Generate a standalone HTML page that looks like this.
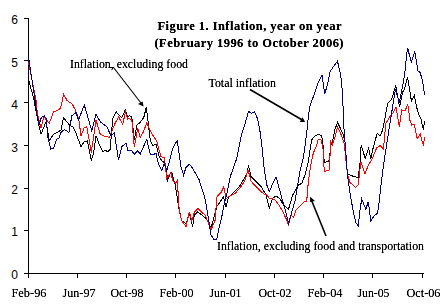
<!DOCTYPE html>
<html><head><meta charset="utf-8"><style>
html,body{margin:0;padding:0;background:#fff;}
svg{display:block;}
</style></head><body>
<svg width="447" height="306" viewBox="0 0 447 306">
<defs><filter id="crisp" x="0" y="0" width="447" height="306" filterUnits="userSpaceOnUse" color-interpolation-filters="sRGB"><feComponentTransfer><feFuncA type="linear" slope="1.35" intercept="0"/></feComponentTransfer></filter></defs>
<rect x="0" y="0" width="447" height="306" fill="#fff"/>
<path d="M28.5 18 V278 M28 273.5 H424 M24 18.5 H28.5 M24 60.5 H28.5 M24 102.5 H28.5 M24 145.5 H28.5 M24 188.5 H28.5 M24 230.5 H28.5 M24 273.5 H28.5 M28.5 273 V278 M77.5 273 V278 M126.5 273 V278 M175.5 273 V278 M225.5 273 V278 M274.5 273 V278 M323.5 273 V278 M372.5 273 V278 M422.5 273 V278" stroke="#000" stroke-width="1" fill="none" shape-rendering="crispEdges"/>
<polyline points="28.5,79.0 34.0,100.0 37.7,120.0 41.0,134.2 46.0,121.7 49.3,140.8 53.5,134.2 58.5,131.7 61.0,130.0 63.5,117.5 66.8,121.7 70.2,125.8 72.7,126.7 76.0,133.3 81.0,146.7 84.3,141.7 87.3,140.8 91.3,160.8 93.5,153.3 96.0,135.8 100.2,146.7 102.7,151.7 105.2,150.0 107.7,151.7 110.2,149.2 112.7,118.3 116.0,111.7 121.8,117.5 125.2,110.0 127.7,116.7 129.3,115.8 131.8,116.7 134.3,140.0 136.8,125.0 139.3,123.3 142.7,119.2 144.3,115.8 146.3,106.7 150.2,140.0 152.7,145.8 156.0,144.2 159.3,156.7 161.8,160.8 165.2,163.3 167.7,180.0 170.2,173.3 171.8,172.5 175.2,185.0 179.3,210.5 181.8,220.8 186.0,224.0 189.3,213.3 192.7,226.7 194.3,215.0 197.7,211.7 202.7,215.8 206.0,218.3 211.0,228.3 216.8,206.5 219.3,203.0 223.5,196.7 226.0,207.0 228.5,197.5 234.3,191.7 239.3,186.7 246.8,174.2 248.5,165.3 251.0,176.7 255.2,180.5 261.8,187.5 266.0,195.0 269.3,208.3 272.7,198.3 276.0,195.8 280.2,199.2 283.5,205.0 288.5,209.2 292.7,195.0 298.5,185.0 301.8,183.3 305.0,175.0 308.3,161.7 310.8,145.0 311.7,140.0 315.0,135.8 318.3,134.2 321.7,135.8 323.3,146.7 324.2,162.5 329.2,160.8 330.8,145.0 332.5,141.7 335.0,129.2 337.5,122.5 340.0,127.5 343.3,135.0 345.0,141.7 346.7,166.7 347.5,174.2 351.7,175.8 358.3,177.5 360.0,163.3 361.1,145.2 365.2,158.3 368.6,148.6 370.9,158.9 373.2,147.5 375.5,139.4 377.2,133.1 380.0,136.0 382.7,130.0 385.2,116.7 387.8,103.0 391.8,99.0 395.7,85.5 399.6,107.0 402.5,92.4 404.5,89.4 407.5,76.7 411.4,101.0 414.3,95.8 417.7,111.7 421.0,119.2 423.5,130.0 424.5,121.0" fill="none" stroke="#000" stroke-width="1" shape-rendering="crispEdges"/>
<polyline points="28.5,62.0 36.0,100.0 37.3,113.3 41.0,128.3 44.0,115.8 45.7,119.2 49.3,123.3 53.5,112.0 57.7,110.3 60.7,108.0 63.6,94.0 67.0,100.5 72.0,103.8 75.3,109.7 78.7,118.8 81.0,135.8 84.3,127.5 86.8,126.7 91.3,152.5 96.0,120.0 100.2,134.2 103.5,135.8 109.3,137.5 114.3,125.0 118.5,116.7 122.7,124.2 125.5,112.0 127.7,119.2 129.3,118.3 131.8,120.0 134.3,147.0 137.7,128.3 140.2,137.5 143.5,131.7 146.8,122.5 150.2,130.8 152.7,135.0 156.0,140.0 156.8,141.7 161.0,156.7 164.3,157.5 166.8,178.3 171.0,172.5 172.7,180.8 176.0,183.3 177.3,180.8 179.3,211.0 181.8,220.8 186.0,226.7 189.3,211.7 191.8,220.8 194.3,212.5 198.0,208.3 201.8,212.5 205.2,215.0 211.0,230.0 215.2,220.0 216.8,197.0 221.0,192.5 223.8,187.0 226.0,198.5 228.5,196.7 235.2,193.3 241.0,186.7 245.2,180.0 248.0,169.7 251.0,180.8 254.3,185.0 259.3,190.0 264.3,194.2 266.8,195.0 269.3,198.3 274.3,199.2 277.7,203.3 282.0,210.0 286.0,218.5 288.5,225.0 291.0,215.0 293.5,217.5 296.0,210.0 299.3,206.7 303.0,203.0 304.5,201.5 306.3,201.2 307.2,196.5 308.3,181.7 310.0,170.0 311.7,160.0 313.3,153.3 316.7,145.0 318.3,139.2 320.8,139.2 323.3,150.0 324.2,171.7 329.2,170.0 330.8,141.7 332.5,145.0 335.0,136.7 337.5,126.7 340.0,131.7 344.2,143.3 347.5,175.0 350.0,182.5 355.8,187.5 358.3,185.0 360.8,161.7 365.0,174.2 368.3,165.0 371.7,160.0 376.6,148.0 380.0,145.7 383.5,149.2 384.6,135.0 386.0,123.3 389.3,117.5 392.7,113.3 396.0,106.7 399.3,126.7 401.8,110.0 405.2,110.8 407.7,104.0 410.2,121.7 411.8,125.0 414.3,124.2 416.8,137.5 417.7,138.3 420.2,134.2 423.5,145.8 424.5,137.0" fill="none" stroke="#f00" stroke-width="1" shape-rendering="crispEdges"/>
<polyline points="28.5,57.0 35.0,100.0 36.8,114.2 39.3,125.0 41.3,117.5 44.3,115.8 46.0,118.3 48.0,137.5 50.7,149.2 53.5,148.3 56.8,139.2 59.0,138.0 61.3,131.7 64.7,129.7 69.0,132.5 71.8,115.8 74.7,113.7 76.0,112.5 78.5,120.0 84.3,105.0 87.7,116.7 91.8,130.8 96.0,114.2 100.2,121.7 106.8,126.7 111.0,135.8 114.3,132.5 118.5,160.0 121.8,146.7 126.0,143.0 127.7,150.0 131.0,150.0 134.3,154.2 137.7,150.8 140.2,154.2 146.8,139.2 150.2,154.2 152.7,155.0 156.0,153.3 158.5,164.2 161.8,170.8 164.3,163.3 166.8,170.8 169.3,161.7 172.7,148.3 176.0,142.5 177.3,140.8 179.3,155.0 181.0,166.7 183.5,175.0 186.0,167.5 189.3,164.2 192.7,168.3 196.0,174.2 199.3,180.0 200.2,183.3 204.3,195.8 206.8,208.3 211.0,235.0 214.3,240.0 216.8,239.2 219.3,226.7 221.8,216.7 224.3,203.3 227.7,190.0 230.2,176.7 233.0,169.0 236.8,158.3 238.5,150.0 241.0,136.7 242.7,130.8 245.2,123.3 248.5,111.3 251.3,113.3 254.3,112.0 256.8,116.7 258.5,123.3 260.2,132.5 261.8,145.0 264.3,170.0 266.8,185.0 269.3,191.7 271.8,185.8 276.0,176.7 281.0,195.0 285.2,210.0 288.5,223.3 295.2,200.0 300.2,170.0 303.3,158.3 306.7,133.3 308.3,116.7 310.0,106.0 313.3,96.7 317.5,84.2 322.0,75.3 324.7,94.2 327.5,84.2 330.0,71.7 333.3,66.7 337.5,61.3 340.0,71.7 341.7,81.7 343.0,106.0 343.7,125.0 345.0,141.7 347.5,175.0 350.0,193.3 353.3,211.7 355.8,222.5 358.3,225.8 360.0,210.0 361.7,199.2 365.8,209.2 368.3,201.7 370.8,220.8 374.2,215.8 377.5,213.3 379.2,201.7 380.8,186.7 383.3,166.7 385.8,150.0 390.2,121.7 395.4,89.5 399.3,102.5 401.5,92.0 403.7,80.0 405.2,70.0 406.5,55.0 407.7,48.3 411.3,62.5 414.7,51.3 416.8,63.3 417.7,70.8 420.2,72.5 422.7,81.7 424.5,94.6" fill="none" stroke="#000080" stroke-width="1" shape-rendering="crispEdges"/>
<text x="18" y="24" text-anchor="end" font-family="Liberation Sans" font-size="12">6</text>
<text x="18" y="67" text-anchor="end" font-family="Liberation Sans" font-size="12">5</text>
<text x="18" y="109" text-anchor="end" font-family="Liberation Sans" font-size="12">4</text>
<text x="18" y="152" text-anchor="end" font-family="Liberation Sans" font-size="12">3</text>
<text x="18" y="194" text-anchor="end" font-family="Liberation Sans" font-size="12">2</text>
<text x="18" y="236" text-anchor="end" font-family="Liberation Sans" font-size="12">1</text>
<text x="18" y="279" text-anchor="end" font-family="Liberation Sans" font-size="12">0</text>
<g filter="url(#crisp)" fill="#000"><text x="29" y="297" text-anchor="middle" font-family="Liberation Serif" font-size="13" textLength="35" lengthAdjust="spacingAndGlyphs">Feb-96</text>
<text x="79" y="297" text-anchor="middle" font-family="Liberation Serif" font-size="13" textLength="33" lengthAdjust="spacingAndGlyphs">Jun-97</text>
<text x="127" y="297" text-anchor="middle" font-family="Liberation Serif" font-size="13" textLength="33" lengthAdjust="spacingAndGlyphs">Oct-98</text>
<text x="176.5" y="297" text-anchor="middle" font-family="Liberation Serif" font-size="13" textLength="34" lengthAdjust="spacingAndGlyphs">Feb-00</text>
<text x="225.5" y="297" text-anchor="middle" font-family="Liberation Serif" font-size="13" textLength="32" lengthAdjust="spacingAndGlyphs">Jun-01</text>
<text x="275" y="297" text-anchor="middle" font-family="Liberation Serif" font-size="13" textLength="33" lengthAdjust="spacingAndGlyphs">Oct-02</text>
<text x="325" y="297" text-anchor="middle" font-family="Liberation Serif" font-size="13" textLength="35" lengthAdjust="spacingAndGlyphs">Feb-04</text>
<text x="373.5" y="297" text-anchor="middle" font-family="Liberation Serif" font-size="13" textLength="32" lengthAdjust="spacingAndGlyphs">Jun-05</text>
<text x="423.5" y="297" text-anchor="middle" font-family="Liberation Serif" font-size="13" textLength="34" lengthAdjust="spacingAndGlyphs">Oct-06</text>
<text x="157.5" y="30" font-family="Liberation Serif" font-weight="bold" font-size="12.5" textLength="184" lengthAdjust="spacing">Figure 1. Inflation, year on year</text>
<text x="154.5" y="47" font-family="Liberation Serif" font-weight="bold" font-size="12.5" textLength="189" lengthAdjust="spacing">(February 1996 to October 2006)</text>
<text x="70" y="68" font-family="Liberation Serif" font-size="13" textLength="118" lengthAdjust="spacingAndGlyphs">Inflation, excluding food</text>
<text x="208.5" y="87" font-family="Liberation Serif" font-size="13" textLength="67.5" lengthAdjust="spacingAndGlyphs">Total inflation</text>
<text x="217" y="250" font-family="Liberation Serif" font-size="13" textLength="207" lengthAdjust="spacingAndGlyphs">Inflation, excluding food and transportation</text></g>
<path d="M110 67.5 H113.5 L142.5 105" fill="none" stroke="#000" stroke-width="1.1"/>
<path d="M143.6 106.4 L138 104 L142.6 101.4 Z" fill="#000"/>
<path d="M250 89.5 L304 121" fill="none" stroke="#000" stroke-width="1.6"/>
<path d="M305 122 L299.8 122 L302.5 117.2 Z" fill="#000"/>
<path d="M326 236 L311 199" fill="none" stroke="#000" stroke-width="1.6"/>
<path d="M310.2 196.8 L310 202 L315 201 Z" fill="#000"/>
</svg>
</body></html>
